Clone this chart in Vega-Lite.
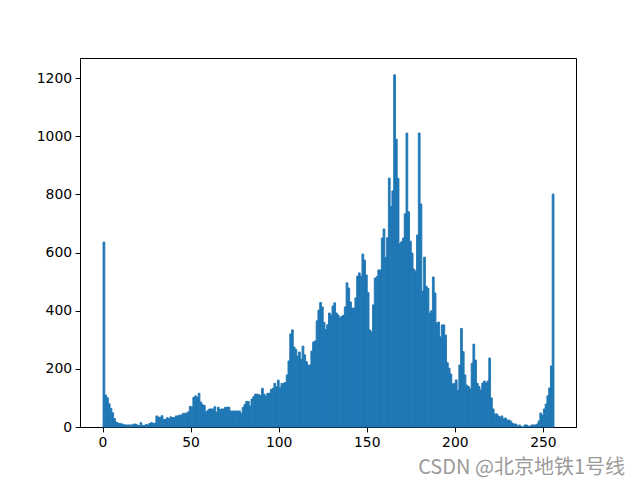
{
  "$schema": "https://vega.github.io/schema/vega-lite/v6.json",
  "width": 496,
  "height": 369,
  "autosize": {"type": "none"},
  "padding": {"left": 80, "top": 58, "right": 64, "bottom": 53},
  "background": "white",
  "data": {"values": [
    {"v":0,"n":636},{"v":1,"n":110},{"v":2,"n":101},{"v":3,"n":80},{"v":4,"n":64},{"v":5,"n":49},{"v":6,"n":29},{"v":7,"n":17},{"v":8,"n":14},{"v":9,"n":12},
    {"v":10,"n":11},{"v":11,"n":9},{"v":12,"n":7},{"v":13,"n":7},{"v":14,"n":7},{"v":15,"n":7},{"v":16,"n":7},{"v":17,"n":10},{"v":18,"n":10},{"v":19,"n":7},
    {"v":20,"n":4},{"v":21,"n":15},{"v":22,"n":5},{"v":23,"n":5},{"v":24,"n":9},{"v":25,"n":7},{"v":26,"n":12},{"v":27,"n":15},{"v":28,"n":13},{"v":29,"n":13},
    {"v":30,"n":38},{"v":31,"n":34},{"v":32,"n":33},{"v":33,"n":39},{"v":34,"n":26},{"v":35,"n":26},{"v":36,"n":32},{"v":37,"n":28},{"v":38,"n":35},{"v":39,"n":32},
    {"v":40,"n":32},{"v":41,"n":38},{"v":42,"n":38},{"v":43,"n":41},{"v":44,"n":41},{"v":45,"n":47},{"v":46,"n":47},{"v":47,"n":48},{"v":48,"n":52},{"v":49,"n":71},
    {"v":50,"n":69},{"v":51,"n":102},{"v":52,"n":107},{"v":53,"n":102},{"v":54,"n":116},{"v":55,"n":86},{"v":56,"n":77},{"v":57,"n":74},{"v":58,"n":52},{"v":59,"n":57},
    {"v":60,"n":62},{"v":61,"n":62},{"v":62,"n":62},{"v":63,"n":70},{"v":64,"n":51},{"v":65,"n":68},{"v":66,"n":60},{"v":67,"n":62},{"v":68,"n":62},{"v":69,"n":68},
    {"v":70,"n":68},{"v":71,"n":68},{"v":72,"n":55},{"v":73,"n":55},{"v":74,"n":55},{"v":75,"n":55},{"v":76,"n":55},{"v":77,"n":55},{"v":78,"n":47},{"v":79,"n":67},
    {"v":80,"n":77},{"v":81,"n":88},{"v":82,"n":88},{"v":83,"n":72},{"v":84,"n":96},{"v":85,"n":104},{"v":86,"n":113},{"v":87,"n":113},{"v":88,"n":111},{"v":89,"n":108},
    {"v":90,"n":133},{"v":91,"n":113},{"v":92,"n":106},{"v":93,"n":116},{"v":94,"n":116},{"v":95,"n":129},{"v":96,"n":133},{"v":97,"n":150},{"v":98,"n":138},{"v":99,"n":161},
    {"v":100,"n":135},{"v":101,"n":150},{"v":102,"n":150},{"v":103,"n":153},{"v":104,"n":179},{"v":105,"n":227},{"v":106,"n":320},{"v":107,"n":334},{"v":108,"n":275},{"v":109,"n":267},
    {"v":110,"n":244},{"v":111,"n":258},{"v":112,"n":233},{"v":113,"n":278},{"v":114,"n":248},{"v":115,"n":225},{"v":116,"n":213},{"v":117,"n":213},{"v":118,"n":261},{"v":119,"n":292},
    {"v":120,"n":296},{"v":121,"n":365},{"v":122,"n":402},{"v":123,"n":428},{"v":124,"n":413},{"v":125,"n":360},{"v":126,"n":335},{"v":127,"n":352},{"v":128,"n":392},{"v":129,"n":385},
    {"v":130,"n":416},{"v":131,"n":427},{"v":132,"n":392},{"v":133,"n":385},{"v":134,"n":375},{"v":135,"n":380},{"v":136,"n":384},{"v":137,"n":413},{"v":138,"n":496},{"v":139,"n":478},
    {"v":140,"n":430},{"v":141,"n":409},{"v":142,"n":409},{"v":143,"n":444},{"v":144,"n":519},{"v":145,"n":530},{"v":146,"n":519},{"v":147,"n":595},{"v":148,"n":574},{"v":149,"n":523},
    {"v":150,"n":462},{"v":151,"n":334},{"v":152,"n":327},{"v":153,"n":420},{"v":154,"n":512},{"v":155,"n":517},{"v":156,"n":540},{"v":157,"n":540},{"v":158,"n":650},{"v":159,"n":681},
    {"v":160,"n":583},{"v":161,"n":651},{"v":162,"n":856},{"v":163,"n":758},{"v":164,"n":812},{"v":165,"n":1211},{"v":166,"n":990},{"v":167,"n":855},{"v":168,"n":630},{"v":169,"n":637},
    {"v":170,"n":650},{"v":171,"n":733},{"v":172,"n":1011},{"v":173,"n":740},{"v":174,"n":639},{"v":175,"n":598},{"v":176,"n":543},{"v":177,"n":536},{"v":178,"n":660},{"v":179,"n":1011},
    {"v":180,"n":767},{"v":181,"n":467},{"v":182,"n":584},{"v":183,"n":484},{"v":184,"n":477},{"v":185,"n":392},{"v":186,"n":400},{"v":187,"n":516},{"v":188,"n":461},{"v":189,"n":358},
    {"v":190,"n":361},{"v":191,"n":310},{"v":192,"n":351},{"v":193,"n":351},{"v":194,"n":316},{"v":195,"n":221},{"v":196,"n":202},{"v":197,"n":182},{"v":198,"n":148},{"v":199,"n":150},
    {"v":200,"n":162},{"v":201,"n":126},{"v":202,"n":213},{"v":203,"n":339},{"v":204,"n":259},{"v":205,"n":179},{"v":206,"n":144},{"v":207,"n":139},{"v":208,"n":131},{"v":209,"n":219},
    {"v":210,"n":285},{"v":211,"n":230},{"v":212,"n":150},{"v":213,"n":139},{"v":214,"n":127},{"v":215,"n":151},{"v":216,"n":158},{"v":217,"n":151},{"v":218,"n":158},{"v":219,"n":237},
    {"v":220,"n":100},{"v":221,"n":62},{"v":222,"n":45},{"v":223,"n":45},{"v":224,"n":38},{"v":225,"n":34},{"v":226,"n":38},{"v":227,"n":28},{"v":228,"n":31},{"v":229,"n":24},
    {"v":230,"n":24},{"v":231,"n":20},{"v":232,"n":13},{"v":233,"n":10},{"v":234,"n":10},{"v":235,"n":3},{"v":236,"n":7},{"v":237,"n":1},{"v":238,"n":0},{"v":239,"n":7},
    {"v":240,"n":7},{"v":241,"n":3},{"v":242,"n":3},{"v":243,"n":7},{"v":244,"n":7},{"v":245,"n":7},{"v":246,"n":10},{"v":247,"n":21},{"v":248,"n":48},{"v":249,"n":41},
    {"v":250,"n":62},{"v":251,"n":79},{"v":252,"n":107},{"v":253,"n":134},{"v":254,"n":210},{"v":255,"n":801}
  ]},
  "mark": {"type": "bar", "binSpacing": 0, "color": "#1f77b4", "stroke": "#1f77b4", "strokeWidth": 0.9},
  "encoding": {
    "x": {
      "field": "v", "type": "quantitative",
      "bin": {"step": 1, "extent": [0, 256]},
      "scale": {"domain": [-12.8, 268.8], "nice": false, "zero": false},
      "axis": {"values": [0, 50, 100, 150, 200, 250], "title": null, "labelAngle": 0, "format": "d"}
    },
    "y": {
      "field": "n", "type": "quantitative", "aggregate": "sum",
      "scale": {"domain": [0, 1269], "nice": false},
      "axis": {"values": [0, 200, 400, 600, 800, 1000, 1200], "title": null, "format": "d"}
    }
  },
  "title": {
    "text": "CSDN @北京地铁1号线",
    "orient": "bottom",
    "anchor": "end",
    "frame": "group",
    "dx": 49,
    "offset": 9,
    "font": "Noto Sans CJK SC",
    "fontSize": 20,
    "fontWeight": "normal",
    "color": "#9a9a9a"
  },
  "config": {
    "view": {"stroke": "#000", "strokeWidth": 1},
    "axis": {
      "grid": false,
      "domainColor": "#000",
      "domainWidth": 1,
      "tickColor": "#000",
      "tickWidth": 1,
      "tickSize": 4.9,
      "labelPadding": 3.5,
      "labelColor": "#000",
      "labelFont": "DejaVu Sans",
      "labelFontSize": 13.9
    }
  }
}
